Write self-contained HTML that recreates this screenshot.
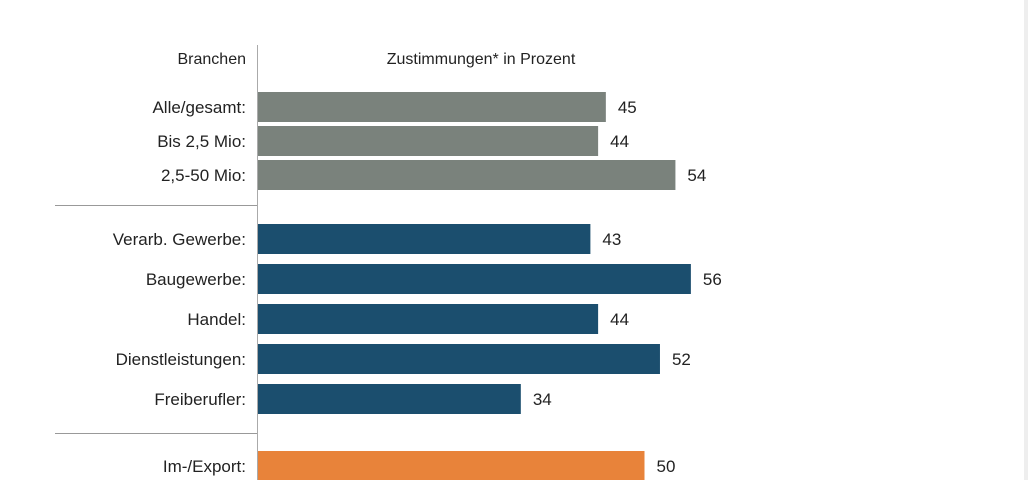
<!DOCTYPE html>
<html><head><meta charset="utf-8"><style>
html,body{margin:0;padding:0;background:#fff;}
svg{display:block;font-family:"Liberation Sans",Arial,sans-serif;}
</style></head><body>
<svg id="chart" width="1028" height="480" viewBox="0 0 1028 480">
<rect x="1024" y="0" width="4" height="480" fill="#eeeeee"/>
<text x="246" y="64" text-anchor="end" font-size="16" fill="#222">Branchen</text>
<text x="481" y="64" text-anchor="middle" font-size="16" fill="#222">Zustimmungen* in Prozent</text>
<line x1="257.5" y1="45" x2="257.5" y2="480" stroke="#aaa" stroke-width="1"/>
<line x1="55" y1="205.5" x2="257" y2="205.5" stroke="#999" stroke-width="1"/>
<line x1="55" y1="433.5" x2="257" y2="433.5" stroke="#999" stroke-width="1"/>
<g id="bars"></g>
</svg>
<script>
const categories = ["Alle/gesamt:","Bis 2,5 Mio:","2,5-50 Mio:","Verarb. Gewerbe:","Baugewerbe:","Handel:","Dienstleistungen:","Freiberufler:","Im-/Export:"];
const values = [45,44,54,43,56,44,52,34,50];
const groups = [0,0,0,1,1,1,1,1,2];
const groupColors = ["#7a827c","#1b4e6e","#e8833a"];
const x0 = 258, pxPerUnit = 7.73;
function xScale(v){ return x0 + v * pxPerUnit; }
const groupStart = [92,224,451], groupStep = [34,40,40];
function yPos(i){
  const g = groups[i];
  let k = 0; for (let j = 0; j < i; j++) if (groups[j] === g) k++;
  return groupStart[g] + k * groupStep[g];
}
const ns = "http://www.w3.org/2000/svg";
const gEl = document.getElementById("bars");
categories.forEach((c, i) => {
  const y = yPos(i), h = 30, v = values[i];
  const r = document.createElementNS(ns, "rect");
  r.setAttribute("x", x0); r.setAttribute("y", y);
  r.setAttribute("width", xScale(v) - x0); r.setAttribute("height", h);
  r.setAttribute("fill", groupColors[groups[i]]);
  
  
  gEl.appendChild(r);
  const lab = document.createElementNS(ns, "text");
  lab.setAttribute("x", 246); lab.setAttribute("y", y + h/2 + 6);
  lab.setAttribute("text-anchor", "end"); lab.setAttribute("font-size", "17"); lab.setAttribute("fill", "#222");
  lab.textContent = c;
  
  
  gEl.appendChild(lab);
  const vl = document.createElementNS(ns, "text");
  vl.setAttribute("x", xScale(v) + 12); vl.setAttribute("y", y + h/2 + 6);
  vl.setAttribute("font-size", "17"); vl.setAttribute("fill", "#222");
  vl.textContent = v;
  
  
  gEl.appendChild(vl);
});
</script>
</body></html>
